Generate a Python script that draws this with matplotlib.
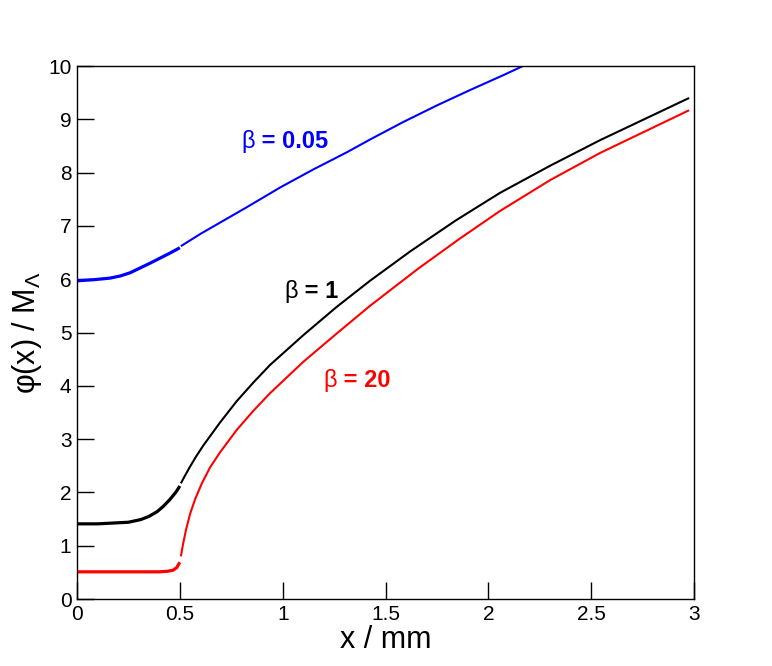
import numpy as np
import matplotlib.pyplot as plt

plt.rcParams['font.family'] = ['Liberation Sans', 'DejaVu Sans']
plt.rcParams['mathtext.fontset'] = 'custom'
plt.rcParams['mathtext.rm'] = 'Liberation Sans'
plt.rcParams['mathtext.it'] = 'Liberation Sans'

# beta = 0.05 (blue)
x_in_b005 = [0.0, 0.08, 0.16, 0.21, 0.258, 0.355, 0.452, 0.5]
y_in_b005 = [5.97, 5.99, 6.02, 6.06, 6.12, 6.30, 6.49, 6.59]
x_out_b005 = [0.505, 0.6, 0.744, 0.825, 0.987, 1.149, 1.311, 1.424, 1.586,
              1.749, 1.911, 2.073, 2.162, 2.2]
y_out_b005 = [6.62, 6.85, 7.17, 7.35, 7.72, 8.06, 8.38, 8.62, 8.95,
              9.26, 9.55, 9.83, 9.99, 10.06]

# beta = 1 (black)
x_in_b1 = [0.0, 0.1, 0.2, 0.25, 0.31, 0.35, 0.39, 0.42, 0.45, 0.48, 0.5]
y_in_b1 = [1.41, 1.41, 1.43, 1.44, 1.49, 1.55, 1.64, 1.74, 1.86, 2.0, 2.12]
x_out_b1 = [0.505, 0.52, 0.549, 0.58, 0.614, 0.695, 0.776, 0.857, 0.938, 1.1, 1.262,
            1.424, 1.619, 1.84, 2.056, 2.3, 2.543, 2.975]
y_out_b1 = [2.17, 2.28, 2.48, 2.68, 2.88, 3.31, 3.71, 4.06, 4.39, 4.95, 5.48,
            5.97, 6.52, 7.10, 7.62, 8.13, 8.61, 9.40]

# beta = 20 (red)
x_in_b20 = [0.0, 0.2, 0.4, 0.44, 0.467, 0.485, 0.5]
y_in_b20 = [0.51, 0.51, 0.51, 0.52, 0.54, 0.59, 0.69]
x_out_b20 = [0.505, 0.515, 0.53, 0.55, 0.575, 0.607, 0.647, 0.695, 0.776, 0.857,
             0.938, 1.1, 1.262, 1.424, 1.659, 1.86, 2.056, 2.3, 2.543, 2.975]
y_out_b20 = [0.80, 1.02, 1.30, 1.60, 1.88, 2.17, 2.47, 2.75, 3.17, 3.53,
             3.86, 4.45, 4.98, 5.50, 6.20, 6.76, 7.28, 7.86, 8.37, 9.17]

fig = plt.figure(figsize=(7.72, 6.66), dpi=100)
ax = fig.add_axes([0.0997, 0.1006, 0.7996, 0.8003])

for xi, yi, xo, yo, c in [(x_in_b005, y_in_b005, x_out_b005, y_out_b005, 'blue'),
                          (x_in_b1, y_in_b1, x_out_b1, y_out_b1, 'black'),
                          (x_in_b20, y_in_b20, x_out_b20, y_out_b20, 'red')]:
    ax.plot(xi, yi, color=c, lw=2.3, solid_capstyle='butt', solid_joinstyle='round')
    ax.plot(xo, yo, color=c, lw=1.5, solid_capstyle='butt', solid_joinstyle='round')

ax.set_xlim(0, 3)
ax.set_ylim(0, 10)
ax.set_xticks([0, 0.5, 1, 1.5, 2, 2.5, 3])
ax.set_xticklabels(['0', '0.5', '1', '1.5', '2', '2.5', '3'])
ax.set_yticks(range(0, 11))
ax.tick_params(direction='in', length=12, width=1, labelsize=15, pad=4,
               top=False, right=False)
for s in ax.spines.values():
    s.set_linewidth(1.0)

ax.set_xlabel('x / mm', fontsize=22, labelpad=1)
ax.set_ylabel(r'φ(x) / M$_\Lambda$', fontsize=22, labelpad=3)

labels = [(0.80, 8.46, ' = 0.05', 'blue'),
          (1.01, 5.65, ' = 1', 'black'),
          (1.196, 3.98, ' = 20', 'red')]
for lx, ly, txt, c in labels:
    t = ax.text(lx, ly, 'β', color=c, fontsize=17, va='baseline', ha='left')
    ax.annotate(txt, xy=(1, 0), xycoords=t, color=c, fontsize=17,
                fontweight='bold', va='bottom', ha='left')

fig.savefig('out.png', dpi=100)
